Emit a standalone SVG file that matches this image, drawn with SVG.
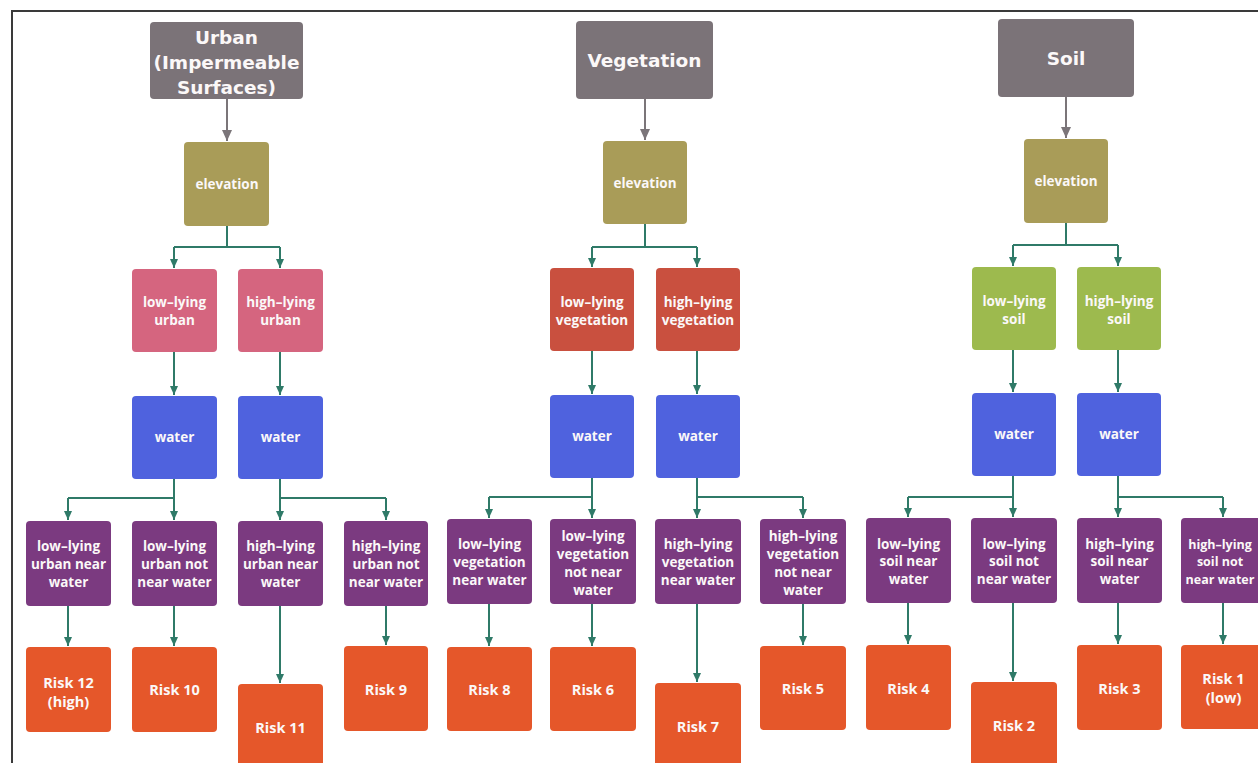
<svg xmlns="http://www.w3.org/2000/svg" width="1258" height="763" viewBox="0 0 1258 763">
<defs>
<marker id="ah" markerUnits="userSpaceOnUse" markerWidth="10" markerHeight="10" refX="9" refY="5" orient="auto">
<path d="M0,1 L9,5 L0,9 Z" fill="#2f7a68"/>
</marker>
<marker id="ahg" markerUnits="userSpaceOnUse" markerWidth="12" markerHeight="12" refX="11" refY="6" orient="auto">
<path d="M0,1 L11,6 L0,11 Z" fill="#7b7579"/>
</marker>
<style>
.t{font-family:"Open Sans","DejaVu Sans",sans-serif;font-weight:700;fill:#fbf8f8;text-anchor:middle;font-size:13.5px}
.h{font-family:"DejaVu Sans","Open Sans",sans-serif;font-size:18.5px}
.r{font-size:14.5px}
.e{font-size:12.5px}
.hd{fill:#7b7378}
.el{fill:#a99c58}
.pk{fill:#d5657f}
.rd{fill:#c9503f}
.gr{fill:#9dba4e}
.wa{fill:#4f62de}
.pu{fill:#7b3a80}
.rk{fill:#e5572a}
.c{fill:none;stroke:#2f7a68;stroke-width:2;marker-end:url(#ah)}
.cn{fill:none;stroke:#2f7a68;stroke-width:2}
.cg{fill:none;stroke:#7b7579;stroke-width:2;marker-end:url(#ahg)}
</style>
</defs>
<rect width="1258" height="763" fill="#ffffff"/>
<path d="M12,763 V11 H1258" fill="none" stroke="#3a3a3a" stroke-width="2"/>

<g id="connectors">
<path class="cg" d="M227,99 V141"/>
<path class="cn" d="M227,226 V247 H174"/>
<path class="cn" d="M227,247 H280"/>
<path class="c" d="M174,247 V268"/>
<path class="c" d="M280,247 V268"/>
<path class="c" d="M174,352 V395"/>
<path class="c" d="M280,352 V395"/>
<path class="cn" d="M174,479 V498 H68"/>
<path class="c" d="M68,498 V520"/>
<path class="c" d="M174,498 V520"/>
<path class="cn" d="M280,479 V498 H386"/>
<path class="c" d="M280,498 V520"/>
<path class="c" d="M386,498 V520"/>
<path class="c" d="M68,606 V646"/>
<path class="c" d="M174,606 V646"/>
<path class="c" d="M280,606 V683"/>
<path class="c" d="M386,606 V645"/>
<path class="cg" d="M645,99 V140"/>
<path class="cn" d="M645,224 V247 H592"/>
<path class="cn" d="M645,247 H697"/>
<path class="c" d="M592,247 V267"/>
<path class="c" d="M697,247 V267"/>
<path class="c" d="M592,351 V394"/>
<path class="c" d="M697,351 V394"/>
<path class="cn" d="M592,478 V497 H489"/>
<path class="c" d="M489,497 V518"/>
<path class="c" d="M592,497 V518"/>
<path class="cn" d="M697,478 V497 H803"/>
<path class="c" d="M697,497 V518"/>
<path class="c" d="M803,497 V518"/>
<path class="c" d="M489,604 V646"/>
<path class="c" d="M592,604 V646"/>
<path class="c" d="M697,604 V682"/>
<path class="c" d="M803,604 V645"/>
<path class="cg" d="M1066,97 V138"/>
<path class="cn" d="M1066,223 V245 H1013"/>
<path class="cn" d="M1066,245 H1118"/>
<path class="c" d="M1013,245 V266"/>
<path class="c" d="M1118,245 V266"/>
<path class="c" d="M1013,350 V392"/>
<path class="c" d="M1118,350 V392"/>
<path class="cn" d="M1013,476 V497 H908"/>
<path class="c" d="M908,497 V517"/>
<path class="c" d="M1013,497 V517"/>
<path class="cn" d="M1118,476 V497 H1223"/>
<path class="c" d="M1118,497 V517"/>
<path class="c" d="M1223,497 V517"/>
<path class="c" d="M908,603 V644"/>
<path class="c" d="M1013,603 V681"/>
<path class="c" d="M1118,603 V644"/>
<path class="c" d="M1223,603 V644"/>
</g>

<g id="urban"><rect class="hd" x="150" y="22" width="153" height="77" rx="4"/>
<text class="t h" x="226.5" y="44">Urban</text><text class="t h" x="226.5" y="69">(Impermeable</text><text class="t h" x="226.5" y="94">Surfaces)</text></g>
<g id="u-elev"><rect class="el" x="184" y="142" width="85" height="84" rx="4"/><text class="t" x="227" y="189">elevation</text></g>
<g id="u-low"><rect class="pk" x="132" y="269" width="85" height="83" rx="4"/><text class="t" x="174.5" y="307">low–lying</text><text class="t" x="174.5" y="325">urban</text></g>
<g id="u-high"><rect class="pk" x="238" y="269" width="85" height="83" rx="4"/><text class="t" x="280.5" y="307">high–lying</text><text class="t" x="280.5" y="325">urban</text></g>
<g id="u-water1"><rect class="wa" x="132" y="396" width="85" height="83" rx="4"/><text class="t" x="174.5" y="442">water</text></g>
<g id="u-water2"><rect class="wa" x="238" y="396" width="85" height="83" rx="4"/><text class="t" x="280.5" y="442">water</text></g>
<g id="u-p1"><rect class="pu" x="26" y="521" width="85" height="85" rx="4"/><text class="t" x="68.5" y="551">low–lying</text><text class="t" x="68.5" y="569">urban near</text><text class="t" x="68.5" y="587">water</text></g>
<g id="u-p2"><rect class="pu" x="132" y="521" width="85" height="85" rx="4"/><text class="t" x="174.5" y="551">low–lying</text><text class="t" x="174.5" y="569">urban not</text><text class="t" x="174.5" y="587">near water</text></g>
<g id="u-p3"><rect class="pu" x="238" y="521" width="85" height="85" rx="4"/><text class="t" x="280.5" y="551">high–lying</text><text class="t" x="280.5" y="569">urban near</text><text class="t" x="280.5" y="587">water</text></g>
<g id="u-p4"><rect class="pu" x="344" y="521" width="84" height="85" rx="4"/><text class="t" x="386" y="551">high–lying</text><text class="t" x="386" y="569">urban not</text><text class="t" x="386" y="587">near water</text></g>
<g id="risk12"><rect class="rk" x="26" y="647" width="85" height="85" rx="4"/><text class="t r" x="68.5" y="688">Risk 12</text><text class="t r" x="68.5" y="707">(high)</text></g>
<g id="risk10"><rect class="rk" x="132" y="647" width="85" height="85" rx="4"/><text class="t r" x="174.5" y="695">Risk 10</text></g>
<g id="risk11"><rect class="rk" x="238" y="684" width="85" height="90" rx="4"/><text class="t r" x="280.5" y="733">Risk 11</text></g>
<g id="risk9"><rect class="rk" x="344" y="646" width="84" height="85" rx="4"/><text class="t r" x="386" y="695">Risk 9</text></g>

<g id="vegetation"><rect class="hd" x="576" y="21" width="137" height="78" rx="4"/><text class="t h" x="644.5" y="67">Vegetation</text></g>
<g id="v-elev"><rect class="el" x="603" y="141" width="84" height="83" rx="4"/><text class="t" x="645" y="188">elevation</text></g>
<g id="v-low"><rect class="rd" x="550" y="268" width="84" height="83" rx="4"/><text class="t" x="592" y="307">low–lying</text><text class="t" x="592" y="325">vegetation</text></g>
<g id="v-high"><rect class="rd" x="656" y="268" width="84" height="83" rx="4"/><text class="t" x="698" y="307">high–lying</text><text class="t" x="698" y="325">vegetation</text></g>
<g id="v-water1"><rect class="wa" x="550" y="395" width="84" height="83" rx="4"/><text class="t" x="592" y="441">water</text></g>
<g id="v-water2"><rect class="wa" x="656" y="395" width="84" height="83" rx="4"/><text class="t" x="698" y="441">water</text></g>
<g id="v-p1"><rect class="pu" x="447" y="519" width="85" height="85" rx="4"/><text class="t" x="489.5" y="549">low–lying</text><text class="t" x="489.5" y="567">vegetation</text><text class="t" x="489.5" y="585">near water</text></g>
<g id="v-p2"><rect class="pu" x="550" y="519" width="86" height="85" rx="4"/><text class="t" x="593" y="541">low–lying</text><text class="t" x="593" y="559">vegetation</text><text class="t" x="593" y="577">not near</text><text class="t" x="593" y="595">water</text></g>
<g id="v-p3"><rect class="pu" x="655" y="519" width="86" height="85" rx="4"/><text class="t" x="698" y="549">high–lying</text><text class="t" x="698" y="567">vegetation</text><text class="t" x="698" y="585">near water</text></g>
<g id="v-p4"><rect class="pu" x="760" y="519" width="86" height="85" rx="4"/><text class="t" x="803" y="541">high–lying</text><text class="t" x="803" y="559">vegetation</text><text class="t" x="803" y="577">not near</text><text class="t" x="803" y="595">water</text></g>
<g id="risk8"><rect class="rk" x="447" y="647" width="85" height="84" rx="4"/><text class="t r" x="489.5" y="695">Risk 8</text></g>
<g id="risk6"><rect class="rk" x="550" y="647" width="86" height="84" rx="4"/><text class="t r" x="593" y="695">Risk 6</text></g>
<g id="risk7"><rect class="rk" x="655" y="683" width="86" height="90" rx="4"/><text class="t r" x="698" y="732">Risk 7</text></g>
<g id="risk5"><rect class="rk" x="760" y="646" width="86" height="84" rx="4"/><text class="t r" x="803" y="694">Risk 5</text></g>

<g id="soil"><rect class="hd" x="998" y="19" width="136" height="78" rx="4"/><text class="t h" x="1066" y="65">Soil</text></g>
<g id="s-elev"><rect class="el" x="1024" y="139" width="84" height="84" rx="4"/><text class="t" x="1066" y="186">elevation</text></g>
<g id="s-low"><rect class="gr" x="972" y="267" width="84" height="83" rx="4"/><text class="t" x="1014" y="306">low–lying</text><text class="t" x="1014" y="324">soil</text></g>
<g id="s-high"><rect class="gr" x="1077" y="267" width="84" height="83" rx="4"/><text class="t" x="1119" y="306">high–lying</text><text class="t" x="1119" y="324">soil</text></g>
<g id="s-water1"><rect class="wa" x="972" y="393" width="84" height="83" rx="4"/><text class="t" x="1014" y="439">water</text></g>
<g id="s-water2"><rect class="wa" x="1077" y="393" width="84" height="83" rx="4"/><text class="t" x="1119" y="439">water</text></g>
<g id="s-p1"><rect class="pu" x="866" y="518" width="85" height="85" rx="4"/><text class="t" x="908.5" y="549">low–lying</text><text class="t" x="908.5" y="566">soil near</text><text class="t" x="908.5" y="584">water</text></g>
<g id="s-p2"><rect class="pu" x="971" y="518" width="86" height="85" rx="4"/><text class="t" x="1014" y="549">low–lying</text><text class="t" x="1014" y="566">soil not</text><text class="t" x="1014" y="584">near water</text></g>
<g id="s-p3"><rect class="pu" x="1077" y="518" width="85" height="85" rx="4"/><text class="t" x="1119.5" y="549">high–lying</text><text class="t" x="1119.5" y="566">soil near</text><text class="t" x="1119.5" y="584">water</text></g>
<g id="s-p4"><rect class="pu" x="1181" y="518" width="85" height="85" rx="4"/><text class="t e" x="1220" y="549">high–lying</text><text class="t e" x="1220" y="566">soil not</text><text class="t e" x="1220" y="584">near water</text></g>
<g id="risk4"><rect class="rk" x="866" y="645" width="85" height="85" rx="4"/><text class="t r" x="908.5" y="694">Risk 4</text></g>
<g id="risk2"><rect class="rk" x="971" y="682" width="86" height="90" rx="4"/><text class="t r" x="1014" y="731">Risk 2</text></g>
<g id="risk3"><rect class="rk" x="1077" y="645" width="85" height="85" rx="4"/><text class="t r" x="1119.5" y="694">Risk 3</text></g>
<g id="risk1"><rect class="rk" x="1181" y="645" width="85" height="84" rx="4"/><text class="t r" x="1223.5" y="684">Risk 1</text><text class="t r" x="1223.5" y="703">(low)</text></g>
</svg>
